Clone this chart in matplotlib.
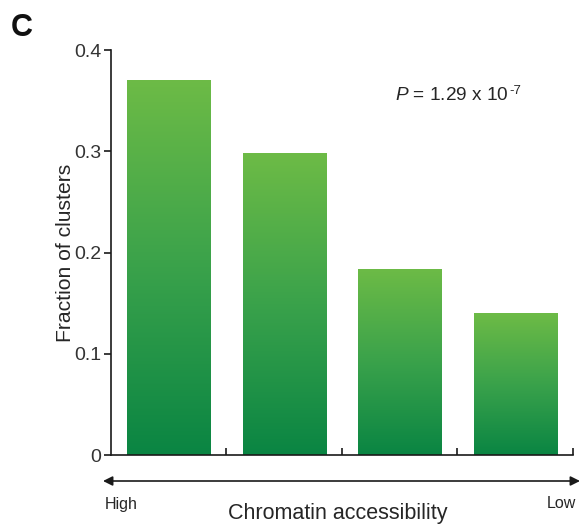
import matplotlib
matplotlib.use("Agg")
import matplotlib.pyplot as plt
from matplotlib.colors import LinearSegmentedColormap
import numpy as np

plt.rcParams['font.family'] = ['Liberation Sans', 'DejaVu Sans']
plt.rcParams['mathtext.fontset'] = 'custom'
plt.rcParams['mathtext.rm'] = 'Liberation Sans'
plt.rcParams['mathtext.it'] = 'Liberation Sans:italic'

# data
groups = ['1', '2', '3', '4']
fractions = [0.371, 0.298, 0.184, 0.140]
y_ticks = [0, 0.1, 0.2, 0.3, 0.4]
y_tick_labels = ['0', '0.1', '0.2', '0.3', '0.4']
p_label = r'$P$ = 1.29 x 10'
p_exp = '-7'

text_color = '#262626'
green = LinearSegmentedColormap.from_list('grn', ['#0a8543', '#3aa24b', '#6dbb46'])


def gradient_bars(ax, x, heights, width):
    bars = ax.bar(x, heights, width=width, color='none', edgecolor='none')
    grad = np.linspace(0, 1, 256).reshape(-1, 1)
    for b in bars:
        x0, y0 = b.get_x(), b.get_y()
        im = ax.imshow(grad, cmap=green, origin='lower', aspect='auto',
                       extent=[x0, x0 + b.get_width(), y0, y0 + b.get_height()],
                       zorder=2)
        im.set_clip_path(b)
    return bars


def main():
    fig = plt.figure(figsize=(5.81, 5.28), dpi=100)
    ax = fig.add_axes([0.191, 0.138, 0.795, 0.767])

    x = np.arange(len(groups))
    gradient_bars(ax, x, fractions, 0.72)

    ax.set_xlim(-0.5, len(groups) - 0.5)
    ax.set_ylim(0, 0.4)

    ax.spines['top'].set_visible(False)
    ax.spines['right'].set_visible(False)
    for s in ['left', 'bottom']:
        ax.spines[s].set_linewidth(1.2)
        ax.spines[s].set_color('#1a1a1a')

    ax.set_yticks(y_ticks)
    ax.set_yticklabels(y_tick_labels)
    ax.tick_params(axis='y', direction='out', length=5, width=1.2,
                   labelsize=14, colors='#1a1a1a', labelcolor='#333333', pad=2)
    # separator ticks between the bars, pointing inward
    ax.set_xticks(np.append(x[:-1] + 0.5, len(groups) - 0.5))
    ax.set_xticklabels([])
    ax.tick_params(axis='x', direction='in', length=5, width=1.2, colors='#1a1a1a')

    ax.set_ylabel('Fraction of clusters', fontsize=15.2, color=text_color, labelpad=-1)

    t = ax.text(0.615, 0.877, p_label, transform=ax.transAxes, fontsize=13.7,
                color=text_color, va='baseline', ha='left')
    fig.canvas.draw()
    ax.annotate(p_exp, xy=(1, 0), xycoords=t, xytext=(0.5, 7.5),
                textcoords='offset points', fontsize=9.5, color=text_color,
                ha='left', va='baseline')

    # accessibility arrow below the axis
    ax.annotate('', xy=(103 / 581, 1 - 481 / 528), xytext=(580 / 581, 1 - 481 / 528),
                xycoords='figure fraction', textcoords='figure fraction',
                arrowprops=dict(arrowstyle='<|-|>', color='#1a1a1a', lw=1.2,
                                mutation_scale=14, shrinkA=0, shrinkB=0))
    fig.text(105 / 581, 1 - 505 / 528, 'High', fontsize=11.5, color=text_color,
             ha='left', va='center')
    fig.text(576 / 581, 1 - 503 / 528, 'Low', fontsize=11.5, color=text_color,
             ha='right', va='center')
    fig.text(338 / 581, 1 - 514 / 528, 'Chromatin accessibility', fontsize=15.5,
             color=text_color, ha='center', va='center')

    fig.text(11 / 581, 1 - 28 / 528, 'C', fontsize=22, fontweight='bold',
             color='#111111', ha='left', va='center')

    fig.savefig('out.png', dpi=100)


if __name__ == "__main__":
    main()
